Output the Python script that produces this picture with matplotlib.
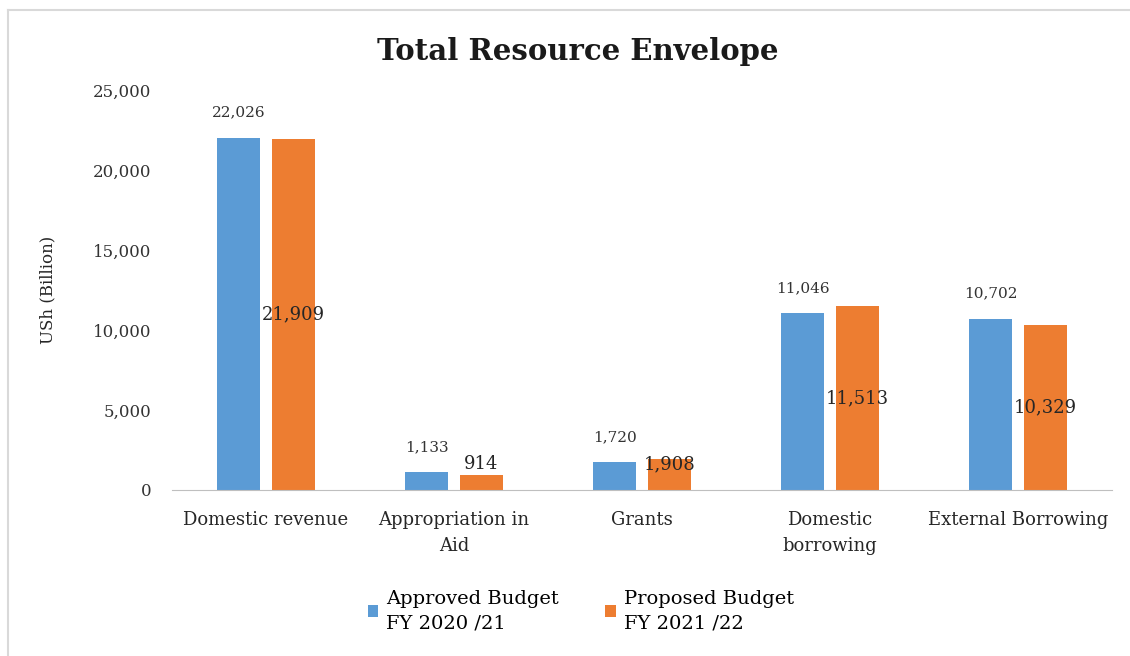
import matplotlib
matplotlib.use("Agg")
import matplotlib.pyplot as plt
from matplotlib.lines import Line2D
from matplotlib.ticker import FuncFormatter
import numpy as np

categories = ["Domestic revenue", "Appropriation in\nAid", "Grants",
              "Domestic\nborrowing", "External Borrowing"]
approved = [22026, 1133, 1720, 11046, 10702]
proposed = [21909, 914, 1908, 11513, 10329]
series_names = ["Approved Budget\nFY 2020 /21", "Proposed Budget\nFY 2021 /22"]

blue = "#5B9BD5"
orange = "#ED7D31"
serif = ["DejaVu Serif", "Liberation Serif"]
plt.rcParams["font.family"] = serif

fig = plt.figure(figsize=(11.3, 6.56), dpi=100)
ax = fig.add_axes([172 / 1130, 1 - 490 / 656, 940 / 1130, 400 / 656])

x = np.arange(len(categories))
w = 0.23
off = 0.145
b1 = ax.bar(x - off, approved, w, color=blue, label=series_names[0])
b2 = ax.bar(x + off, proposed, w, color=orange, label=series_names[1])

# blue labels above bars
for xi, v in zip(x, approved):
    ax.annotate(f"{v:,}", (xi - off, v), xytext=(0, 18), textcoords="offset points",
                ha="center", va="center", fontsize=11, color="#333333")
# orange labels roughly in the middle of the bar
for xi, v in zip(x, proposed):
    ax.text(xi + off, max(v / 2, 1600), f"{v:,}", ha="center", va="center",
            fontsize=13, color="#262626")

ax.set_xlim(-0.5, len(categories) - 0.5)
ax.set_ylim(0, 25000)
ax.set_yticks(np.arange(0, 25001, 5000))
ax.yaxis.set_major_formatter(FuncFormatter(lambda v, p: f"{int(v):,}"))
ax.set_xticks(x)
ax.set_xticklabels(categories, fontsize=13, color="#262626", linespacing=1.55)
ax.tick_params(axis="y", labelsize=12, labelcolor="#333333", length=0, pad=15)
ax.tick_params(axis="x", length=0, pad=15)
for s in ["top", "right", "left"]:
    ax.spines[s].set_visible(False)
ax.spines["bottom"].set_color("#BFBFBF")

ax.set_ylabel("USh (Billion)", fontsize=12, color="#262626", labelpad=26)
fig.text(0.511, 1 - 52 / 656, "Total Resource Envelope", ha="center", va="center",
         fontsize=21, fontweight="bold", color="#1a1a1a")

leg = fig.legend(handles=[b1, b2], loc="center", bbox_to_anchor=(0.514, 1 - 611 / 656),
                 ncol=2, frameon=False, fontsize=14, handlelength=0.55, handleheight=0.55,
                 handletextpad=0.4, columnspacing=2.4)
for t in leg.get_texts():
    t.set_linespacing(1.45)

# thin frame on left and top
fig.add_artist(Line2D([8 / 1130, 8 / 1130], [0, 1 - 10 / 656], transform=fig.transFigure,
                      color="#D9D9D9", lw=1.5))
fig.add_artist(Line2D([8 / 1130, 1], [1 - 10 / 656, 1 - 10 / 656], transform=fig.transFigure,
                      color="#D9D9D9", lw=1.5))

fig.savefig("out.png", dpi=100, facecolor="white")
